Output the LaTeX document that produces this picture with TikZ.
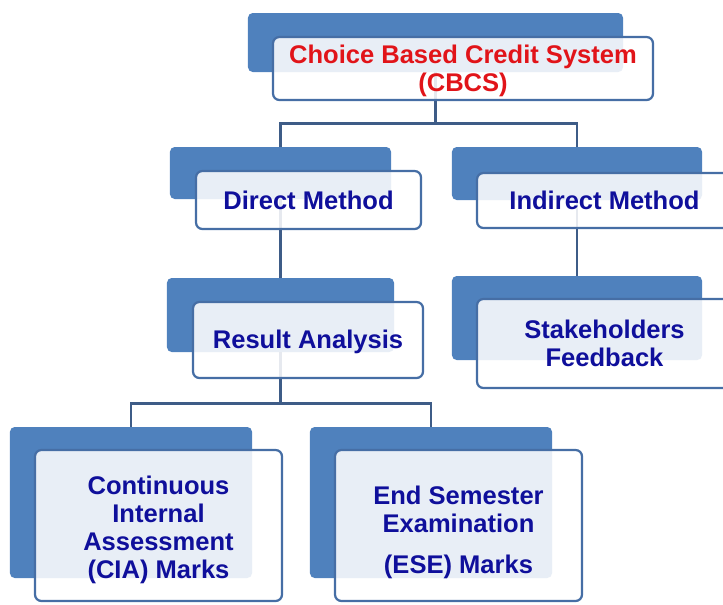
\documentclass[tikz,border=0pt]{standalone}
\usepackage{fontspec}
\setmainfont{Liberation Sans}
\usepackage{tikz}
\definecolor{boxblue}{RGB}{79,129,189}
\definecolor{edgeblue}{RGB}{70,110,165}
\definecolor{linkblue}{RGB}{62,92,135}
\definecolor{textblue}{RGB}{15,15,155}
\definecolor{textred}{RGB}{225,20,25}
\tikzset{
    backbox/.style={fill=boxblue, rounded corners=4pt, inner sep=0pt},
    frontbox/.style={draw=edgeblue, line width=1.9pt, fill=white, fill opacity=0.87,
        rounded corners=5.5pt, inner sep=0pt},
    boxtext/.style={inner sep=0pt, align=center, text=textblue,
        font=\bfseries\fontsize{21.8}{24}\selectfont},
    link/.style={draw=linkblue, line width=2.3pt}
}

\begin{document}
\begin{tikzpicture}[x=0.03cm, y=-0.03cm]
    \useasboundingbox (0,0) rectangle (723,604);
    \clip (0,0) rectangle (723,604);
    \node[backbox, minimum width=11.25cm, minimum height=1.77cm] (cbcs-bg)     at (435.5,42.5) {};
    \node[backbox, minimum width=6.63cm,  minimum height=1.56cm] (direct-bg)   at (280.5,173) {};
    \node[backbox, minimum width=7.5cm,   minimum height=1.59cm] (indirect-bg) at (577,173.5) {};
    \node[backbox, minimum width=6.81cm,  minimum height=2.22cm] (result-bg)   at (280.5,315) {};
    \node[backbox, minimum width=7.5cm,   minimum height=2.52cm] (stake-bg)    at (577,318) {};
    \node[backbox, minimum width=7.26cm,  minimum height=4.53cm] (cia-bg)      at (131,502.5) {};
    \node[backbox, minimum width=7.26cm,  minimum height=4.53cm] (ese-bg)      at (431,502.5) {};
    \draw[link] (cbcs-bg.south) -- ++(0,51) -| (direct-bg.north);
    \draw[link] (cbcs-bg.south) -- ++(0,51) -| (indirect-bg.north);
    \draw[link] (direct-bg.south) -- (result-bg.north);
    \draw[link] (indirect-bg.south) -- (stake-bg.north);
    \draw[link] (result-bg.south) -- ++(0,51) -| (cia-bg.north);
    \draw[link] (result-bg.south) -- ++(0,51) -| (ese-bg.north);
    \node[frontbox, minimum width=11.4cm, minimum height=1.89cm] (cbcs)     at (463,68.5) {};
    \node[frontbox, minimum width=6.75cm, minimum height=1.74cm] (direct)   at (308.5,200) {};
    \node[frontbox, minimum width=7.65cm, minimum height=1.65cm] (indirect) at (604.5,200.5) {};
    \node[frontbox, minimum width=6.9cm,  minimum height=2.28cm] (result)   at (308,340) {};
    \node[frontbox, minimum width=7.65cm, minimum height=2.67cm] (stake)    at (604.5,343.5) {};
    \node[frontbox, minimum width=7.41cm, minimum height=4.53cm] (cia)      at (158.5,525.5) {};
    \node[frontbox, minimum width=7.41cm, minimum height=4.53cm] (ese)      at (458.5,525.5) {};
    \node[boxtext, text=textred] (cbcs-text) at ([yshift=-2pt]cbcs.center) {Choice Based Credit System\\(CBCS)};
    \node[boxtext] (direct-text)   at (direct.center)   {Direct Method};
    \node[boxtext] (indirect-text) at (indirect.center) {Indirect Method};
    \node[boxtext] (result-text)   at ([yshift=-1.5pt]result.center) {Result Analysis};
    \node[boxtext] (stake-text)    at (stake.center)    {Stakeholders\\Feedback};
    \node[boxtext] (cia-text)      at ([yshift=-4pt]cia.center) {Continuous\\Internal\\Assessment\\(CIA) Marks};
    \node[boxtext] (ese-text)      at ([yshift=-6pt]ese.center) {End Semester\\Examination\\[11pt](ESE) Marks};
\end{tikzpicture}
\end{document}
